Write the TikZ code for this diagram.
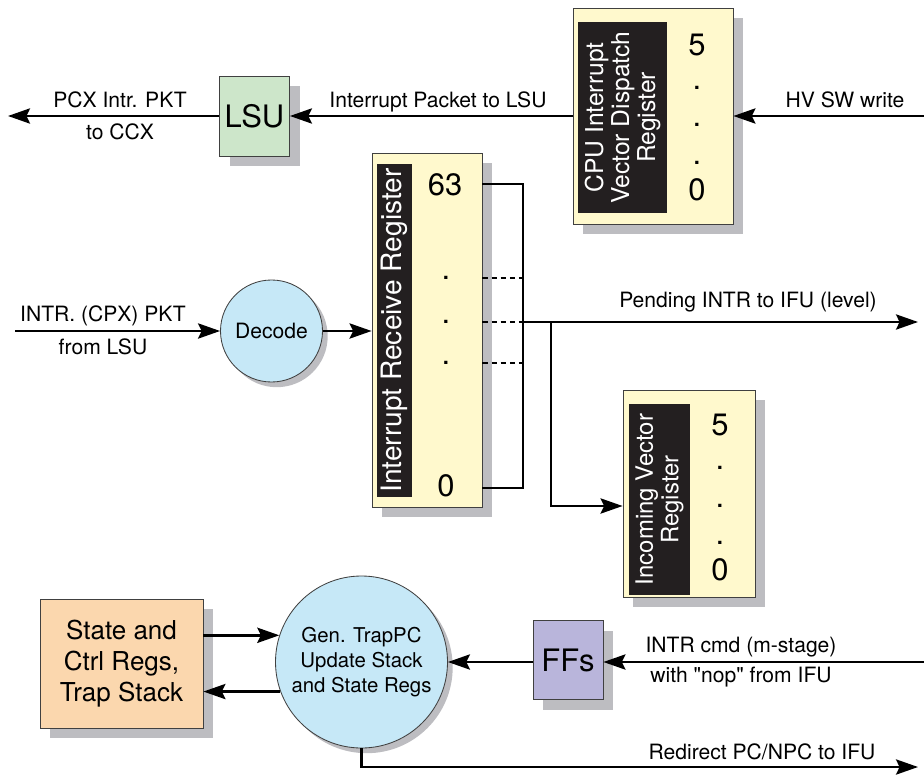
\documentclass[tikz,border=0pt]{standalone}
\usepackage{fontspec}
\setmainfont{TeX Gyre Heros}[Ligatures=TeXOff]
\usetikzlibrary{arrows.meta,shadows}

\definecolor{regyellow}{HTML}{FFF9CD}
\definecolor{lsugreen}{HTML}{CDE6CA}
\definecolor{decblue}{HTML}{C6E8F7}
\definecolor{stateorange}{HTML}{FBD7AE}
\definecolor{ffpurple}{HTML}{B9B5DB}
\definecolor{shadowgray}{HTML}{BDBDC1}
\definecolor{labelblack}{HTML}{231F20}
\newcommand{\pxw}{0.025cm}

\begin{document}
\begin{tikzpicture}[x=0.025cm,y=-0.025cm,
  wire/.style={line width=1.8pt},
  arr/.style={wire,-{Stealth[length=0.55cm,width=0.38cm,inset=0.09cm]}},
  box/.style={draw=black!75,line width=0.6pt,inner sep=0pt,
    drop shadow={shadow xshift=0.25cm,shadow yshift=-0.25cm,fill=shadowgray,opacity=1}},
  ball/.style={circle,draw=black!75,line width=0.6pt,inner sep=0pt,fill=decblue,align=center,
    drop shadow={shadow xshift=0.13cm,shadow yshift=-0.13cm,fill=shadowgray,opacity=1}},
  reglabel/.style={fill=labelblack,text=white,inner sep=0pt,rotate=90,align=center},
  lab/.style={font=\fontsize{15}{18}\selectfont},
  big/.style={font=\fontsize{22}{26}\selectfont}]
  \useasboundingbox (0,0) rectangle (924,774);

  % --- top row: CPU dispatch register -> LSU -> CCX ---
  \node[box,fill=regyellow,minimum width=160*\pxw,minimum height=216*\pxw] (cpuvdr) at (653,116) {};
  \node[reglabel,minimum width=191*\pxw,minimum height=89*\pxw,font=\fontsize{17.5}{18.5}\selectfont]
    at (622.5,117.5) {CPU Interrupt\\Vector Dispatch\\Register};
  \node[big] (cpu5) at (697,45) {5};
  \node[big] at (697,88) {.};
  \node[big] at (697,125) {.};
  \node[big] at (697,163) {.};
  \node[big] (cpu0) at (697,190) {0};
  \node[box,fill=lsugreen,minimum width=70*\pxw,minimum height=80*\pxw,big] (lsu) at (254.5,116) {LSU};
  \coordinate (hvsw) at (924,116);
  \coordinate (ccx) at (8,116);
  \draw[arr] (hvsw) -- (cpuvdr.east);
  \draw[arr] (cpuvdr.west) -- (lsu.east);
  \draw[arr] (lsu.west) -- (ccx);
  \node[lab] at (845,100) {HV SW write};
  \node[lab] at (438,102) {Interrupt Packet to LSU};
  \node[lab] at (120,100) {PCX Intr. PKT};
  \node[lab] at (120,132) {to CCX};

  % --- middle: decode -> receive register -> pending / incoming vector ---
  \node[ball,minimum size=102*\pxw,lab] (decode) at (271.5,331) {Decode};
  \node[box,fill=regyellow,minimum width=110*\pxw,minimum height=354*\pxw] (irr) at (427,330) {};
  \node[reglabel,minimum width=333*\pxw,minimum height=35*\pxw,font=\fontsize{20}{21}\selectfont]
    at (394.5,330.5) {Interrupt Receive Register};
  \node[big] (irr63) at (445,185) {63};
  \node[big] (irrd1) at (446,278) {.};
  \node[big] (irrd2) at (446,322) {.};
  \node[big] (irrd3) at (446,363) {.};
  \node[big] (irr0) at (446,486) {0};
  \coordinate (inpkt) at (15,331);
  \draw[arr] (inpkt) -- (decode.west);
  \draw[arr] (decode.east) -- (irr.west |- decode.east);
  \node[lab] at (103,316) {INTR. (CPX) PKT};
  \node[lab] at (103,347) {from LSU};
  % bus on the right of the register
  \coordinate (bustop) at (523,184);
  \coordinate (busbot) at (523,488);
  \draw[wire,line join=miter] (irr.east |- bustop) -- (bustop) -- (busbot) -- (irr.east |- busbot);
  \draw[line width=1.3pt,dash pattern=on 4pt off 2.5pt] (irr.east |- irrd1) -- (bustop |- irrd1);
  \draw[line width=1.3pt,dash pattern=on 4pt off 2.5pt] (irr.east |- irrd2) -- (bustop |- irrd2);
  \draw[line width=1.3pt,dash pattern=on 4pt off 2.5pt] (irr.east |- irrd3) -- (bustop |- irrd3);
  \coordinate (pend) at (918,322);
  \coordinate (branch) at (551,322);
  \draw[arr] (bustop |- pend) -- (pend);
  \node[lab] at (748,302) {Pending INTR to IFU (level)};
  % incoming vector register
  \node[box,fill=regyellow,minimum width=132*\pxw,minimum height=207*\pxw] (ivr) at (689,493.5) {};
  \node[reglabel,minimum width=191*\pxw,minimum height=61*\pxw,font=\fontsize{17}{18}\selectfont]
    at (659.5,499.5) {Incoming Vector\\Register};
  \node[big] (ivr5) at (720,425) {5};
  \node[big] at (720,468) {.};
  \node[big] (ivrd2) at (720,506) {.};
  \node[big] at (720,543) {.};
  \node[big] (ivr0) at (720,570) {0};
  \draw[arr,line join=miter] (branch) |- (ivr.west |- ivrd2);

  % --- bottom row: state regs <-> trap PC logic <- FFs ---
  \node[box,fill=stateorange,minimum width=163*\pxw,minimum height=129*\pxw,align=center,
    font=\fontsize{18.5}{22}\selectfont] (stregs) at (121.5,663.5) {State and\\Ctrl Regs,\\Trap Stack};
  \node[ball,minimum size=172*\pxw,font=\fontsize{14.5}{18}\selectfont] (trappc) at (361.5,662)
    {Gen. TrapPC\\Update Stack\\and State Regs};
  \node[box,fill=ffpurple,minimum width=70*\pxw,minimum height=79*\pxw,big] (ffs) at (568,660) {FFs};
  \draw[arr] (stregs.east |- trappc.162) -- (trappc.162);
  \draw[arr] (trappc.200) -- (stregs.east |- trappc.200);
  \coordinate (intrcmd) at (924,662);
  \draw[arr] (intrcmd) -- (ffs.east |- intrcmd);
  \draw[arr] (ffs.west |- intrcmd) -- (trappc.east |- intrcmd);
  \node[lab] at (741,647) {INTR cmd (m-stage)};
  \node[lab] at (741,677) {with "nop" from IFU};
  \coordinate (redir) at (918,767);
  \draw[arr,line join=miter] (trappc.south) |- (redir);
  \node[lab] at (762,752) {Redirect PC/NPC to IFU};
\end{tikzpicture}
\end{document}
